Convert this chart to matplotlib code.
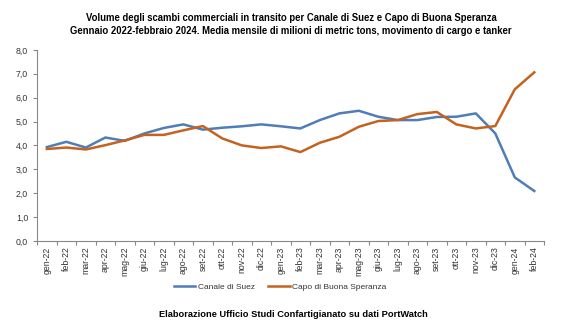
#!/usr/bin/env python3
import matplotlib
matplotlib.use("Agg")
import matplotlib.pyplot as plt
from matplotlib.ticker import FuncFormatter

months = ["gen-22", "feb-22", "mar-22", "apr-22", "mag-22", "giu-22", "lug-22", "ago-22",
          "set-22", "ott-22", "nov-22", "dic-22", "gen-23", "feb-23", "mar-23", "apr-23",
          "mag-23", "giu-23", "lug-23", "ago-23", "set-23", "ott-23", "nov-23", "dic-23",
          "gen-24", "feb-24"]
suez = [3.93, 4.15, 3.91, 4.33, 4.19, 4.50, 4.73, 4.88, 4.66, 4.74, 4.80, 4.88, 4.80,
        4.71, 5.06, 5.34, 5.45, 5.20, 5.06, 5.06, 5.19, 5.20, 5.34, 4.50, 2.66, 2.09]
capo = [3.85, 3.91, 3.83, 4.01, 4.21, 4.44, 4.44, 4.63, 4.81, 4.29, 4.00, 3.89, 3.96,
        3.72, 4.11, 4.36, 4.78, 5.02, 5.06, 5.31, 5.40, 4.88, 4.71, 4.81, 6.35, 7.06]

plt.rcParams["font.family"] = ["Liberation Sans", "DejaVu Sans"]

fig = plt.figure(figsize=(5.8, 3.26), dpi=100)
ax = fig.add_axes([0.064, 0.261, 0.874, 0.586])

x = list(range(len(months)))
ax.plot(x, suez, color="#4F7DB8", lw=1.8, label="Canale di Suez")
ax.plot(x, capo, color="#C4621F", lw=1.8, label="Capo di Buona Speranza")

ax.set_xlim(-0.5, len(months) - 0.5)
ax.set_ylim(0, 8)
ax.set_yticks(range(0, 9))
ax.yaxis.set_major_formatter(FuncFormatter(lambda v, p: f"{v:.1f}".replace(".", ",")))

# tick marks between categories, labels at category centres
ax.set_xticks([i - 0.5 for i in range(len(months) + 1)])
ax.set_xticklabels([])
ax.set_xticks(x, minor=True)
ax.set_xticklabels(months, minor=True, rotation=90, fontsize=6.3, color="#333333")
ax.tick_params(axis="x", which="major", length=3, color="#888888")
ax.tick_params(axis="x", which="minor", length=0, pad=4)
ax.tick_params(axis="y", length=3, color="#888888", labelsize=6.3, labelcolor="#333333")

for s in ["top", "right"]:
    ax.spines[s].set_visible(False)
for s in ["left", "bottom"]:
    ax.spines[s].set_color("#888888")
    ax.spines[s].set_linewidth(0.8)

fig.legend(loc="center", bbox_to_anchor=(0.483, 0.12), ncol=2, frameon=False,
           fontsize=6, handlelength=2.6, handletextpad=0.3, columnspacing=1.6,
           labelcolor="#333333")

fig.text(0.502, 0.925, "Volume degli scambi commerciali in transito per Canale di Suez e Capo di Buona Speranza\n"
         "Gennaio 2022-febbraio 2024. Media mensile di milioni di metric tons, movimento di cargo e tanker",
         ha="center", va="center", fontsize=6.85, fontweight="bold", linespacing=1.35)
fig.text(0.505, 0.035, "Elaborazione Ufficio Studi Confartigianato su dati PortWatch",
         ha="center", va="center", fontsize=6.7, fontweight="bold")

fig.savefig("out.png", dpi=100)
